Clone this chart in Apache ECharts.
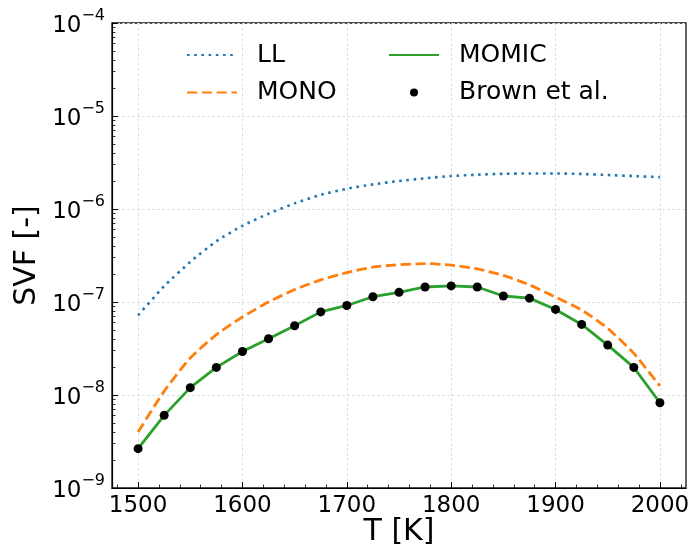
<!DOCTYPE html>
<html>
<head>
<meta charset="utf-8">
<script src="https://cdn.jsdelivr.net/npm/echarts@6/dist/echarts.min.js"></script>
<style>html,body{margin:0;padding:0;background:#fff}#c{width:691px;height:548px}</style>
</head>
<body>
<div id="c"></div>
<script>
var temps = [1500,1525,1550,1575,1600,1625,1650,1675,1700,1725,1750,1775,1800,1825,1850,1875,1900,1925,1950,1975,2000];
var llVals = [7.2e-8,1.48e-7,2.7e-7,4.5e-7,6.6e-7,8.9e-7,1.15e-6,1.42e-6,1.65e-6,1.84e-6,2.0e-6,2.14e-6,2.26e-6,2.34e-6,2.39e-6,2.41e-6,2.41e-6,2.38e-6,2.32e-6,2.26e-6,2.2e-6];
var monoVals = [4.0e-9,1.1e-8,2.5e-8,4.45e-8,6.9e-8,1.0e-7,1.36e-7,1.73e-7,2.07e-7,2.37e-7,2.52e-7,2.59e-7,2.49e-7,2.27e-7,1.93e-7,1.53e-7,1.13e-7,8.2e-8,5.2e-8,2.8e-8,1.25e-8];
var momicVals = [2.65e-9,6.04e-9,1.20e-8,1.98e-8,2.94e-8,4.02e-8,5.55e-8,7.83e-8,9.18e-8,1.14e-7,1.27e-7,1.45e-7,1.49e-7,1.45e-7,1.16e-7,1.10e-7,8.32e-8,5.74e-8,3.44e-8,1.98e-8,8.26e-9];
var brownVals = [2.65e-9,6.04e-9,1.20e-8,1.98e-8,2.94e-8,4.02e-8,5.55e-8,7.83e-8,9.18e-8,1.14e-7,1.27e-7,1.45e-7,1.49e-7,1.45e-7,1.16e-7,1.10e-7,8.32e-8,5.74e-8,3.44e-8,1.98e-8,8.26e-9];
var xMajorTicks = [1500,1600,1700,1800,1900,2000];
var xMinorTicks = [1480,1500,1520,1540,1560,1580,1600,1620,1640,1660,1680,1700,1720,1740,1760,1780,1800,1820,1840,1860,1880,1900,1920,1940,1960,1980,2000,2020];
var yMinorTicks = [];
[-9,-8,-7,-6,-5].forEach(function(d){ for (var k=2;k<=9;k++) yMinorTicks.push(k*Math.pow(10,d)); });

function pairs(vals){ return temps.map(function(t,i){ return [t, vals[i]]; }); }

var FONT = 'DejaVu Sans';
var legendText = {fontSize:25, color:'#000', fontFamily:FONT, lineHeight:28, padding:[0,0,0,15]};
var hiddenSym = {opacity:0};
var chart = echarts.init(document.getElementById('c'), null, {renderer:'canvas'});
chart.setOption({
  animation: false,
  backgroundColor: '#fff',
  textStyle: {fontFamily: FONT},
  grid: {left:112, right:5, top:23, bottom:60, show:true, borderColor:'#111', borderWidth:1.3, backgroundColor:'transparent',
         containLabel:false, outerBoundsMode:'none'},
  legend: [
    {data:[{name:'LL', itemStyle:hiddenSym},{name:'MONO', itemStyle:hiddenSym}], orient:'vertical', left:186, top:41, padding:0,
     itemWidth:50, itemHeight:8, itemGap:9.5, textStyle:legendText},
    {data:[{name:'MOMIC', itemStyle:hiddenSym},'Brown et al.'], orient:'vertical', left:388, top:41, padding:0,
     itemWidth:50, itemHeight:8, itemGap:9.5, textStyle:legendText}
  ],
  xAxis: [
    {type:'value', min:1475, max:2025, position:'bottom',
     name:'T [K]', nameLocation:'middle', nameGap:29, nameMoveOverlap:false,
     nameTextStyle:{fontSize:30, color:'#000', fontFamily:FONT, verticalAlign:'top'},
     axisLine:{show:true, lineStyle:{color:'#000', width:1.2}},
     axisTick:{show:true, inside:true, length:6, customValues:xMajorTicks, lineStyle:{color:'#000', width:1}},
     axisLabel:{show:true, customValues:xMajorTicks, fontSize:23, color:'#000', fontFamily:FONT, margin:7,
       formatter:function(v){ return String(v); }},
     splitLine:{show:true, lineStyle:{color:'#d9d9d9', width:0.8, type:[3,2]}}},
    {type:'value', min:1475, max:2025, position:'bottom', gridIndex:0,
     axisLine:{show:false},
     axisTick:{show:true, inside:true, length:3.5, customValues:xMinorTicks, lineStyle:{color:'#000', width:0.8}},
     axisLabel:{show:false}, splitLine:{show:false}}
  ],
  yAxis: [
    {type:'log', logBase:10, min:1e-9, max:1e-4,
     name:'SVF [-]', nameLocation:'middle', nameGap:70, nameRotate:90, nameMoveOverlap:false,
     nameTextStyle:{fontSize:30, color:'#000', fontFamily:FONT},
     axisLine:{show:true, lineStyle:{color:'#000', width:1.2}},
     axisTick:{show:true, inside:true, length:6, lineStyle:{color:'#000', width:1}},
     axisLabel:{show:true, margin:7, color:'#000', fontFamily:FONT,
       formatter:function(v){ var e=Math.round(Math.log10(v)); return '{b|10}{e|\u2212'+Math.abs(e)+'}'; },
       rich:{b:{fontSize:23, fontFamily:FONT, color:'#000', lineHeight:30, verticalAlign:'bottom'},
             e:{fontSize:16, fontFamily:FONT, color:'#000', lineHeight:30, verticalAlign:'top'}}},
     splitLine:{show:true, lineStyle:{color:'#d9d9d9', width:0.8, type:[3,2]}}},
    {type:'log', logBase:10, min:1e-9, max:1e-4, position:'left', gridIndex:0,
     axisLine:{show:false},
     axisTick:{show:true, inside:true, length:3.5, customValues:yMinorTicks, lineStyle:{color:'#000', width:0.8}},
     axisLabel:{show:false}, splitLine:{show:false}}
  ],
  series: [
    {name:'LL', type:'line', data:pairs(llVals), xAxisIndex:0, yAxisIndex:0, symbol:'none', smooth:0.2,
     lineStyle:{color:'#1f77b4', width:2.6, type:[2.6,4.6], cap:'butt'}, itemStyle:{color:'#1f77b4'}, z:2},
    {name:'MONO', type:'line', data:pairs(monoVals), xAxisIndex:0, yAxisIndex:0, symbol:'none', smooth:0.2,
     lineStyle:{color:'#ff7f0e', width:2.8, type:[10.3,4.5], cap:'butt'}, itemStyle:{color:'#ff7f0e'}, z:2},
    {name:'MOMIC', type:'line', data:pairs(momicVals), xAxisIndex:0, yAxisIndex:0, symbol:'none',
     lineStyle:{color:'#2ca02c', width:2.8}, itemStyle:{color:'#2ca02c'}, z:3},
    {name:'Brown et al.', type:'scatter', data:pairs(brownVals), xAxisIndex:0, yAxisIndex:0, symbol:'circle', symbolSize:9,
     itemStyle:{color:'#000', opacity:1}, z:4}
  ]
});
</script>
</body>
</html>
